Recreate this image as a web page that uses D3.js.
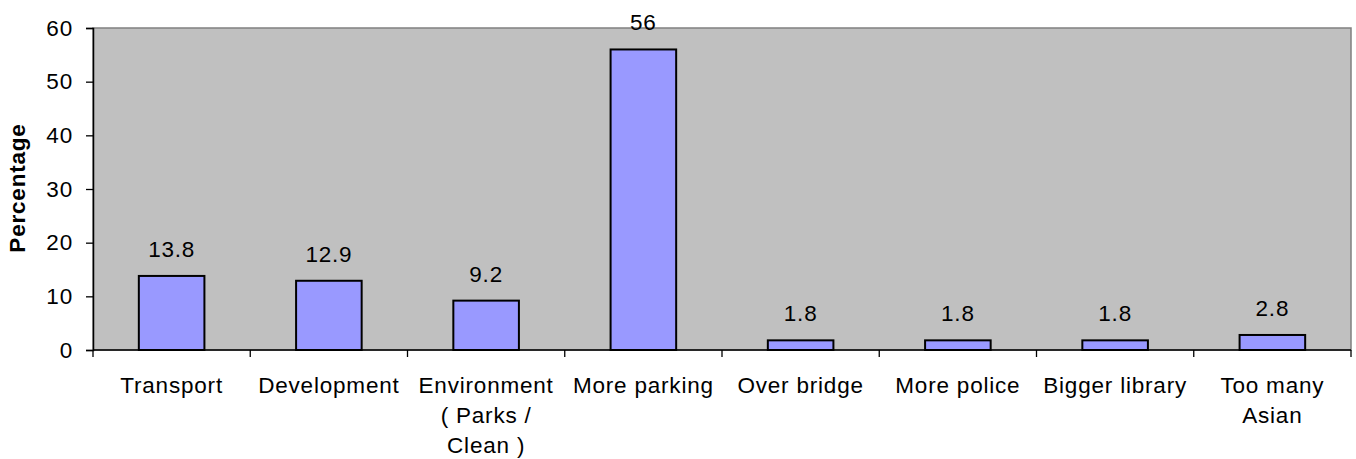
<!DOCTYPE html>
<html><head><meta charset="utf-8">
<script src="https://cdn.jsdelivr.net/npm/d3@7"></script>
<style>body{margin:0;background:#fff}text{font-family:"Liberation Sans",Arial,sans-serif;letter-spacing:0.8px}</style>
</head><body><svg id="c" width="1356" height="459"></svg>
<script>
const categories = ["Transport","Development","Environment\n( Parks /\nClean )","More parking","Over bridge","More police","Bigger library","Too many\nAsian"];
const values = [13.8,12.9,9.2,56,1.8,1.8,1.8,2.8];
const valueLabels = ["13.8","12.9","9.2","56","1.8","1.8","1.8","2.8"];
const yTicks = [0,10,20,30,40,50,60];

const svg = d3.select("#c");
const m = {l:93, r:1351, t:28, b:350};
const x = d3.scaleBand().domain(categories).range([m.l, m.r]).paddingInner(0.583).paddingOuter(0.2915);
const y = d3.scaleLinear().domain([0,60]).range([m.b, m.t]);
const fs = 22.5;

svg.append("rect").attr("x",m.l).attr("y",m.t).attr("width",m.r-m.l).attr("height",m.b-m.t)
  .attr("fill","#c0c0c0").attr("stroke","#808080").attr("stroke-width",1.5);

svg.selectAll(".bar").data(values).join("rect")
  .attr("x",(d,i)=>x(categories[i])).attr("y",d=>y(d))
  .attr("width",x.bandwidth()).attr("height",d=>y(0)-y(d))
  .attr("fill","#9999ff").attr("stroke","#000").attr("stroke-width",2);

svg.selectAll(".vl").data(values).join("text")
  .attr("x",(d,i)=>x(categories[i])+x.bandwidth()/2).attr("y",d=>y(d)-19)
  .attr("text-anchor","middle").attr("font-size",fs).attr("fill","#000")
  .text((d,i)=>valueLabels[i]);

// y axis
const ya = svg.append("g").attr("transform",`translate(${m.l},0)`)
  .call(d3.axisLeft(y).tickValues(yTicks).tickSize(7).tickPadding(13).tickFormat(d3.format("d")));
ya.select(".domain").attr("stroke","#000").attr("stroke-width",1.5);
ya.selectAll(".tick line").attr("stroke","#000").attr("stroke-width",1.3);
ya.selectAll(".tick text").attr("font-size",fs).attr("font-family","Liberation Sans, Arial, sans-serif").attr("fill","#000");

// x axis: baseline + boundary ticks
const step = x.step();
svg.append("line").attr("x1",m.l).attr("x2",m.r).attr("y1",m.b).attr("y2",m.b).attr("stroke","#000").attr("stroke-width",1.5);
const bounds = d3.range(categories.length+1).map(i=> i<categories.length ? x(categories[i]) - x.paddingOuter()*step : m.r);
svg.selectAll(".xt").data(bounds).join("line")
  .attr("x1",d=>d).attr("x2",d=>d).attr("y1",m.b).attr("y2",m.b+7)
  .attr("stroke","#000").attr("stroke-width",1.3);

const lab = svg.selectAll(".xl").data(categories).join("text")
  .attr("text-anchor","middle").attr("font-size",fs).attr("fill","#000");
lab.each(function(d){
  const t = d3.select(this), cx = x(d)+x.bandwidth()/2;
  d.split("\n").forEach((l,i)=>t.append("tspan").attr("x",cx).attr("y",393+i*30).text(l));
});

svg.append("text").attr("transform","translate(25,188) rotate(-90)")
  .attr("text-anchor","middle").attr("font-size",fs).attr("font-weight","bold").text("Percentage");
</script></body></html>
